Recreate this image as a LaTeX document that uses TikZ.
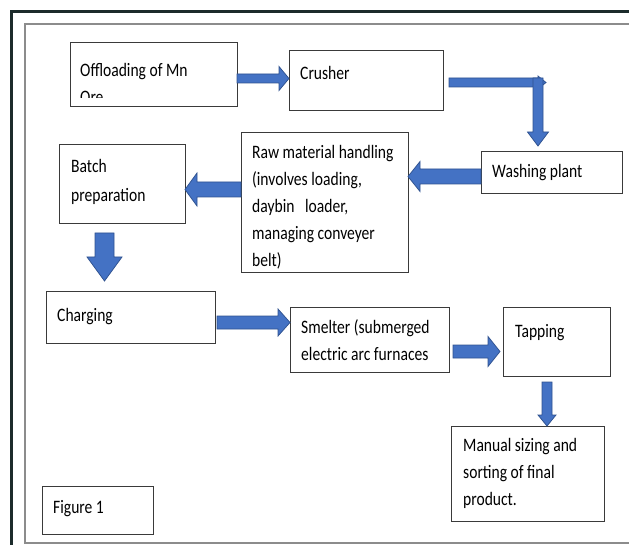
\documentclass[tikz,border=0pt]{standalone}
\usepackage{fontspec}
\setmainfont{Carlito}[FakeStretch=0.82]
\usetikzlibrary{calc}
\definecolor{arrowblue}{HTML}{4472C4}
\definecolor{arrowedge}{HTML}{2F528F}
\definecolor{boxedge}{HTML}{3A3A3A}
\definecolor{framedark}{HTML}{1C2B2B}
\definecolor{framegray}{HTML}{8C8C8C}

\begin{document}
\begin{tikzpicture}[x=1pt, y=-1pt,
  box/.style={draw=boxedge, line width=0.9pt, anchor=north west, inner sep=0pt, outer sep=0pt},
  boxtext/.style={anchor=base west, inner sep=0pt, align=left, text=black, font=\fontsize{19}{27}\selectfont},
  blockarrow/.style n args={3}{fill=arrowblue, draw=arrowedge, line width=0.75pt, line join=miter,
    to path={
      ($(\tikztotarget)!#3!(\tikztostart)$) coordinate (ProcessNneck)
      ($(\tikztostart)!#1!90:(\tikztotarget)$)
      -- ($(ProcessNneck)!#1!90:(\tikztotarget)$)
      -- ($(ProcessNneck)!#2!90:(\tikztotarget)$)
      -- (\tikztotarget)
      -- ($(ProcessNneck)!#2!-90:(\tikztotarget)$)
      -- ($(ProcessNneck)!#1!-90:(\tikztotarget)$)
      -- ($(\tikztostart)!#1!-90:(\tikztotarget)$)
      -- cycle}}]
\useasboundingbox (0,0) rectangle (629,545);
% page frame
\draw[framedark, line width=3pt] (11,545) -- (11,12) -- (629,12);
\draw[framegray, line width=1.2pt] (629,24) -- (25,24) -- (25,543) -- (629,543);
% boxes
\node[box, minimum width=167pt, minimum height=64pt] (ProcessNoffload) at (70,42) {};
\node[box, minimum width=154pt, minimum height=60pt] (ProcessNcrusher) at (289,50) {};
\node[box, minimum width=141pt, minimum height=42pt] (ProcessNwashing) at (481,151) {};
\node[box, minimum width=167pt, minimum height=140pt] (ProcessNraw) at (241,132) {};
\node[box, minimum width=126pt, minimum height=79pt] (ProcessNbatch) at (59,144) {};
\node[box, minimum width=169pt, minimum height=52pt] (ProcessNcharging) at (46,291) {};
\node[box, minimum width=159pt, minimum height=65pt] (ProcessNsmelter) at (290,307) {};
\node[box, minimum width=107pt, minimum height=69pt] (ProcessNtapping) at (503,307) {};
\node[box, minimum width=153pt, minimum height=95pt] (ProcessNmanual) at (451,426) {};
\node[box, minimum width=111pt, minimum height=48pt] (ProcessNfigure) at (42,486) {};
% texts (multi-line ones sit on the last baseline)
\begin{scope}
\clip (ProcessNoffload.north west) rectangle ([yshift=8pt]ProcessNoffload.south east);
\node[boxtext] (ProcessToffload) at (80,104) {Offloading of Mn\\Ore};
\end{scope}
\node[boxtext] (ProcessTcrusher) at (300,80) {Crusher};
\node[boxtext] (ProcessTwashing) at (492,178) {Washing plant};
\node[boxtext] (ProcessTraw) at (252,267) {Raw material handling\\(involves loading,\\daybin\ \ \ loader,\\managing conveyer\\belt)};
\node[boxtext, font=\fontsize{19}{29}\selectfont] (ProcessTbatch) at (71,202) {Batch\\preparation};
\node[boxtext] (ProcessTcharging) at (57,321) {Charging};
\node[boxtext] (ProcessTsmelter) at (301,360) {Smelter (submerged\\electric arc furnaces};
\node[boxtext] (ProcessTtapping) at (515,337) {Tapping};
\node[boxtext] (ProcessTmanual) at (463,505) {Manual sizing and\\sorting of final\\product.};
\node[boxtext] (ProcessTfigure) at (53,513) {Figure 1};
% block arrows
\coordinate (ProcessNturn) at (546,82.5);
\coordinate (ProcessNdrop) at (538,78);
\coordinate (ProcessNdropend) at (538,146);
\draw[blockarrow={4.5pt}{12pt}{10pt}] ([yshift=-4.5pt]ProcessNoffload.east) to ([yshift=-4.5pt]ProcessNcrusher.west |- ProcessNoffload.east);
\draw[blockarrow={4.5pt}{6.5pt}{8pt}] ([xshift=6pt,yshift=-2.5pt]ProcessNcrusher.east) to (ProcessNturn);
\draw[blockarrow={5pt}{10.5pt}{14pt}] (ProcessNdrop) to (ProcessNdropend);
\draw[blockarrow={7.5pt}{15pt}{12pt}] ([yshift=-4.5pt]ProcessNwashing.west) to ([yshift=-4.5pt]ProcessNraw.east |- ProcessNwashing.west);
\draw[blockarrow={7.5pt}{16.5pt}{12pt}] ([yshift=12.5pt]ProcessNraw.west) to ([yshift=12.5pt]ProcessNbatch.east |- ProcessNraw.west);
\draw[blockarrow={9.5pt}{17.5pt}{24pt}] ([xshift=-17.5pt,yshift=-10pt]ProcessNbatch.south) to ([xshift=-17.5pt,yshift=10pt]ProcessNbatch.south |- ProcessNcharging.north);
\draw[blockarrow={6.5pt}{13.5pt}{12pt}] ([xshift=2pt,yshift=-5.5pt]ProcessNcharging.east) to ([yshift=-5.5pt]ProcessNsmelter.west |- ProcessNcharging.east);
\draw[blockarrow={6.5pt}{15pt}{12pt}] ([xshift=4pt,yshift=-12pt]ProcessNsmelter.east) to ([xshift=-3pt,yshift=-12pt]ProcessNtapping.west |- ProcessNsmelter.east);
\draw[blockarrow={5pt}{9pt}{11pt}] ([xshift=-9.5pt,yshift=-6pt]ProcessNtapping.south) to ([xshift=-9.5pt]ProcessNtapping.south |- ProcessNmanual.north);
\end{tikzpicture}
\end{document}
